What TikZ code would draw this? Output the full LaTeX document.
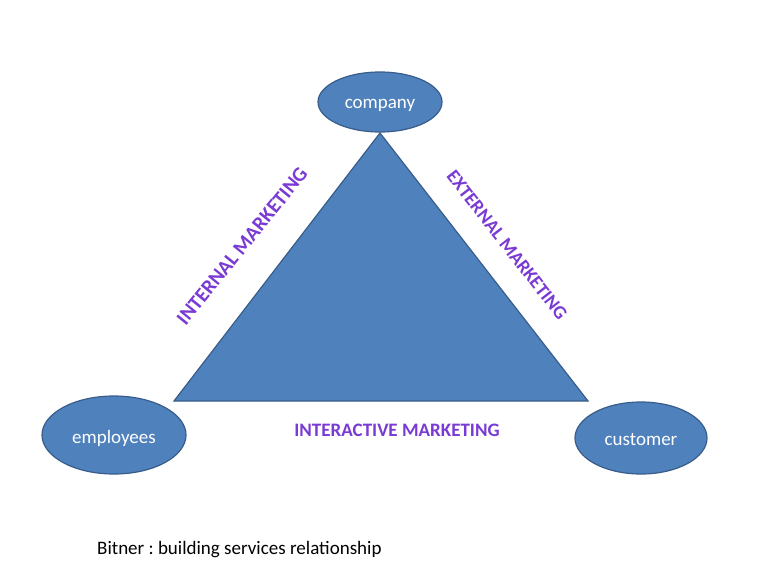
\documentclass[tikz,border=0pt]{standalone}
\usepackage{fontspec}
\setmainfont{Carlito}
\usetikzlibrary{shapes.geometric}
\definecolor{boxfill}{RGB}{79,129,189}
\definecolor{boxline}{RGB}{56,93,138}
\definecolor{labpurple}{RGB}{122,58,212}
\tikzset{
  ell/.style={ellipse, draw=boxline, line width=1.2pt, fill=boxfill, inner sep=0pt},
  elltext/.style={text=white, inner sep=0pt, font=\fontsize{19}{22}\selectfont},
  lab/.style={text=labpurple, font=\bfseries\fontsize{19}{22}\selectfont, inner sep=0pt},
}
\begin{document}
\begin{tikzpicture}[x=1pt,y=-1pt]
\useasboundingbox (0,0) rectangle (768,576);
\fill[white] (0,0) rectangle (768,576);
% triangle
\coordinate (top) at (380,133);
\coordinate (bl) at (174,401);
\coordinate (br) at (588,401);
\fill[boxfill, draw=boxline, line width=1.2pt] (top) -- (br) -- (bl) -- cycle;
% ellipses
\node[ell, minimum width=124pt, minimum height=60pt] (company) at (380,102) {};
\node[ell, minimum width=144pt, minimum height=78pt] (employees) at (114,435) {};
\node[ell, minimum width=132pt, minimum height=72pt] (customer) at (641,438) {};
\node[elltext] (companytext) at ([yshift=-3pt]company.center) {company};
\node[elltext] (employeestext) at ([yshift=-3pt]employees.center) {employees};
\node[elltext] (customertext) at ([yshift=-2pt]customer.center) {customer};
% labels
\node[lab, rotate=51, font=\bfseries\fontsize{20.5}{24}\selectfont] (internal) at (242,246) {INTERNAL MARKETING};
\node[lab, rotate=-52] (external) at (507,245) {EXTERNAL MARKETING};
\node[lab] (interactive) at (397,430) {INTERACTIVE MARKETING};
\node[anchor=west, font=\fontsize{19}{22}\selectfont, inner sep=0pt] (bitner) at (97,550) {\frenchspacing Bitner : building services relationship};
\end{tikzpicture}
\end{document}
